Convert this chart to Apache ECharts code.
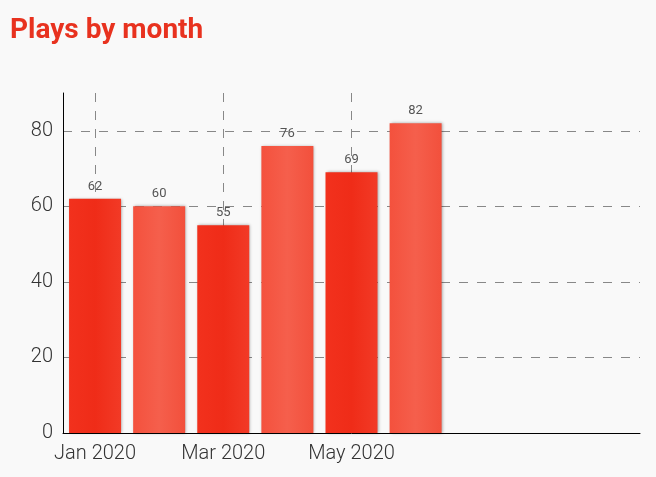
<!DOCTYPE html>
<html>
<head>
<meta charset="utf-8">
<script src="https://cdn.jsdelivr.net/npm/echarts@6/dist/echarts.min.js"></script>
<style>
html,body{margin:0;padding:0;background:#f9f9f9;}
#c{width:656px;height:477px;}
</style>
</head>
<body>
<div id="c"></div>
<script>
const title = 'Plays by month';
const months = ['Jan 2020','Feb 2020','Mar 2020','Apr 2020','May 2020','Jun 2020'];
const extraMonths = ['Jul 2020','Aug 2020','Sep 2020'];
const plays = [62, 60, 55, 76, 69, 82];
const yTicks = [0, 20, 40, 60, 80];

const categories = months.concat(extraMonths);
const darkRed = new echarts.graphic.LinearGradient(0,0,1,0,[
  {offset:0,color:'#f2311d'},{offset:0.5,color:'#ef2c18'},{offset:1,color:'#f23a26'}]);
const lightRed = new echarts.graphic.LinearGradient(0,0,1,0,[
  {offset:0,color:'#f4513d'},{offset:0.5,color:'#f55f4c'},{offset:1,color:'#f2503c'}]);

const chart = echarts.init(document.getElementById('c'), null, {renderer:'canvas'});
chart.setOption({
  backgroundColor:'#f9f9f9',
  animation:false,
  title:{
    text:title, left:5, top:12,
    textStyle:{fontFamily:'Roboto', fontWeight:'bold', fontSize:28, color:'#e8321f'}
  },
  grid:{left:63, right:16, top:93, bottom:44, containLabel:false},
  xAxis:{
    type:'category',
    data:categories,
    boundaryGap:true,
    axisLine:{lineStyle:{color:'#000', width:1}},
    axisTick:{show:false},
    axisLabel:{
      interval:1, color:'#333', fontFamily:'Roboto', fontWeight:300, fontSize:20, margin:11,
      formatter:(v, i)=> months.indexOf(v) >= 0 ? v : ''
    },
    splitLine:{
      show:true, alignWithLabel:true,
      interval:(i)=> i % 2 === 0 && i < months.length,
      lineStyle:{color:'#888', type:[9,9], width:1}
    }
  },
  yAxis:{
    type:'value', min:0, max:90, interval:20,
    axisLine:{show:true, lineStyle:{color:'#000', width:1}},
    axisTick:{show:false},
    axisLabel:{color:'#333', fontFamily:'Roboto', fontWeight:300, fontSize:20, margin:10, showMaxLabel:false,
      formatter:(v)=> yTicks.indexOf(v) >= 0 ? String(v) : ''},
    splitLine:{show:true, showMinLine:false, showMaxLine:false,
      lineStyle:{color:'#888', type:[9,9], width:1}}
  },
  series:[{
    type:'bar',
    barWidth:52,
    z:3,
    data:plays.map((v,i)=>({value:v, itemStyle:{color: i%2===0 ? darkRed : lightRed}})),
    itemStyle:{shadowColor:'rgba(0,0,0,0.35)', shadowBlur:3, shadowOffsetX:1, shadowOffsetY:0},
    label:{show:true, position:'top', distance:6, color:'#555', fontFamily:'Roboto', fontSize:13}
  }]
});
</script>
</body>
</html>
